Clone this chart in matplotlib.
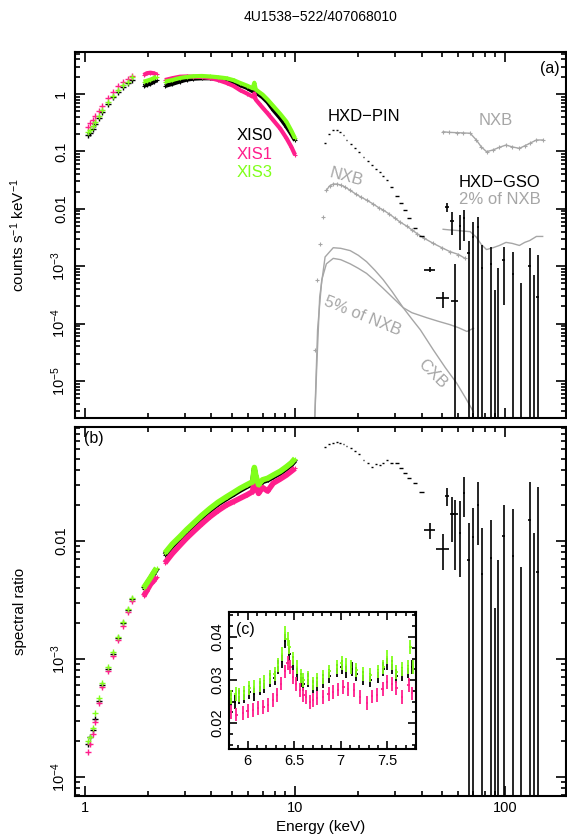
import numpy as np
import matplotlib
matplotlib.use('Agg')
import matplotlib.pyplot as plt
from matplotlib.ticker import LogLocator, NullFormatter, FuncFormatter, MultipleLocator, FixedLocator

plt.rcParams['font.family'] = ['Liberation Sans', 'DejaVu Sans']
plt.rcParams['mathtext.fontset'] = 'custom'
plt.rcParams['mathtext.rm'] = 'Liberation Sans'
plt.rcParams['mathtext.it'] = 'Liberation Sans:italic'
plt.rcParams['mathtext.bf'] = 'Liberation Sans:bold'

PINK = '#ff1e8c'
GREEN = '#80ff1a'
GREY = '#a6a6a6'

# ---------------- data ----------------
title = '4U1538\u2212522/407068010'

# XIS energies (keV); excluded bands between the segments
xis_gaps = [(1.72, 1.88), (2.21, 2.38)]
xis_energy = [1.03, 1.06, 1.09, 1.12, 1.16, 1.21, 1.29, 1.36, 1.44, 1.52, 1.60, 1.68,
              1.90, 1.97, 2.05, 2.12, 2.19,
              2.40, 2.60, 2.83, 3.05, 3.28, 3.60, 3.94, 4.30, 4.72, 5.10, 5.47, 5.90,
              6.28, 6.40, 6.50, 6.70, 7.00, 7.40, 7.87, 8.50, 9.10, 9.60, 10.0]

# (a) counts s-1 keV-1
xis0_counts = [0.19, 0.21, 0.25, 0.30, 0.38, 0.48, 0.68, 0.88, 1.10, 1.32, 1.55, 1.78,
               1.38, 1.45, 1.52, 1.62, 1.75,
               1.38, 1.50, 1.65, 1.78, 1.85, 1.88, 1.88, 1.83, 1.75, 1.60, 1.43, 1.28,
               1.12, 1.40, 1.05, 0.99, 0.88, 0.72, 0.53, 0.38, 0.27, 0.20, 0.155]
xis1_counts = [0.27, 0.31, 0.35, 0.42, 0.50, 0.62, 0.84, 1.08, 1.38, 1.62, 1.80, 2.05,
               2.14, 2.30, 2.35, 2.30, 2.20,
               1.75, 1.88, 2.00, 2.02, 2.00, 1.98, 1.90, 1.75, 1.56, 1.38, 1.17, 1.02,
               0.90, 1.02, 0.80, 0.70, 0.58, 0.46, 0.35, 0.25, 0.17, 0.12, 0.087]
xis3_counts = [0.22, 0.24, 0.28, 0.33, 0.41, 0.52, 0.73, 0.94, 1.18, 1.42, 1.65, 1.95,
               1.64, 1.70, 1.78, 1.88, 2.00,
               1.64, 1.75, 1.90, 1.98, 2.04, 2.06, 2.02, 1.96, 1.88, 1.74, 1.56, 1.40,
               1.26, 1.57, 1.20, 1.10, 0.98, 0.80, 0.62, 0.45, 0.33, 0.23, 0.169]

# (b) spectral ratio
xis0_ratio = [1.9e-4, 2.2e-4, 2.5e-4, 3.1e-4, 4.4e-4, 6.0e-4, 8.2e-4, 1.1e-3, 1.5e-3, 2.0e-3, 2.6e-3, 3.2e-3,
              3.9e-3, 4.3e-3, 4.8e-3, 5.3e-3, 5.8e-3,
              7.6e-3, 9.1e-3, 0.0106, 0.0121, 0.0137, 0.0160, 0.0183, 0.0207, 0.0230, 0.0250, 0.0270, 0.0291,
              0.0308, 0.0400, 0.0345, 0.0291, 0.0320, 0.0330, 0.0351, 0.0378, 0.0413, 0.0446, 0.0485]
xis1_ratio = [1.64e-4, 1.9e-4, 2.3e-4, 2.9e-4, 4.2e-4, 5.8e-4, 7.9e-4, 1.05e-3, 1.45e-3, 1.9e-3, 2.5e-3, 3.1e-3,
              3.4e-3, 3.8e-3, 4.3e-3, 4.6e-3, 5.0e-3,
              6.5e-3, 7.8e-3, 9.2e-3, 0.0106, 0.0120, 0.0140, 0.0161, 0.0181, 0.0202, 0.0216, 0.0230, 0.0246,
              0.0262, 0.0340, 0.0300, 0.0253, 0.0284, 0.0265, 0.0309, 0.0335, 0.0362, 0.0390, 0.0413]
xis3_ratio = [2.0e-4, 2.2e-4, 2.6e-4, 3.5e-4, 4.7e-4, 6.3e-4, 8.5e-4, 1.15e-3, 1.55e-3, 2.05e-3, 2.65e-3, 3.3e-3,
              4.0e-3, 4.4e-3, 4.9e-3, 5.4e-3, 5.9e-3,
              7.9e-3, 9.4e-3, 0.0109, 0.0125, 0.0141, 0.0165, 0.0189, 0.0213, 0.0237, 0.0258, 0.0279, 0.0300,
              0.0318, 0.0420, 0.0360, 0.0300, 0.0330, 0.0340, 0.0362, 0.0390, 0.0426, 0.0460, 0.0500]

# HXD-PIN source
pin_energy = [13.9, 14.5, 15.1, 15.8, 16.4, 17.0, 17.6, 18.4, 19.3, 20.2, 21.2, 22.2, 23.2, 24.3,
              25.4, 26.3, 27.3, 28.8, 30.5, 32.0, 33.4, 34.9, 37.2, 40.1]
pin_xerr = [0.15, 0.15, 0.15, 0.15, 0.15, 0.15, 0.15, 0.2, 0.2, 0.2, 0.2, 0.25, 0.25, 0.25,
            0.25, 0.25, 0.3, 0.5, 0.6, 0.6, 0.6, 0.7, 0.9, 1.2]
pin_counts = [0.138, 0.20, 0.236, 0.235, 0.22, 0.19, 0.158, 0.135, 0.113, 0.096, 0.081, 0.068, 0.058, 0.050,
              0.043, 0.037, 0.0317, 0.024, 0.0167, 0.0125, 0.0095, 0.0068, 0.0046, 0.0033]
pin_ratio = [0.063, 0.066, 0.068, 0.069, 0.068, 0.066, 0.064, 0.061, 0.058, 0.055, 0.049, 0.046, 0.0425, 0.045,
             0.044, 0.046, 0.0485, 0.046, 0.046, 0.0418, 0.0379, 0.0339, 0.0308, 0.0262]

# HXD high-energy / GSO points (1e-9 / 1e-6 = central value below the plotted range)
gso_energy = [43.9, 50.7, 53.0, 56.0, 57.5, 61.0, 63.7, 67.0, 70.3, 74.0, 77.5, 85.5, 89.7, 93.0,
              98.6, 109.0, 118.7, 131.0, 137.0, 143.0]
gso_xerr = [2.6, 3.6, 1.0, 1.3, 2.4, 0.8, 0.8, 0.8, 0.9, 0.9, 1.0, 1.0, 1.0, 1.0,
            1.5, 1.5, 1.5, 2.0, 2.0, 2.0]
gso_counts = [8.6e-4, 2.8e-4, 1.07e-2, 6.1e-3, 2.5e-4, 5.0e-3, 6.9e-3, 1.7e-3, 3.2e-3, 4.8e-3, 9.3e-4, 1.1e-3, 1e-9, 1e-9,
              1.3e-3, 7.3e-4, 1e-9, 1.0e-3, 1e-9, 2.9e-4]
gso_counts_lo = [7.8e-4, 1.9e-4, 8.8e-3, 3.5e-3, 1e-12, 1.9e-3, 2.8e-3, 1e-12, 1e-12, 1e-12, 1e-12, 1e-12, 1e-12, 1e-12,
                 2.1e-4, 1e-12, 1e-12, 1e-12, 1e-12, 1e-12]
gso_counts_hi = [9.5e-4, 3.6e-4, 1.26e-2, 8.8e-3, 1.1e-3, 7.8e-3, 9.5e-3, 2.8e-3, 5.9e-3, 7.3e-3, 2.3e-3, 2.2e-3, 3.8e-4, 9.3e-4,
                 2.2e-3, 1.8e-3, 5.0e-4, 2.1e-3, 7.0e-4, 1.6e-3]
gso_ratio = [0.0124, 0.0086, 0.024, 0.017, 0.017, 0.0117, 0.0255, 0.0069, 0.0108, 0.020, 0.0053, 0.0072, 1e-6, 1e-6,
             0.011, 0.0075, 1e-6, 0.015, 1e-6, 0.0055]
gso_ratio_lo = [0.0104, 0.0057, 0.0198, 0.0099, 0.0057, 0.0050, 0.0161, 1e-12, 1e-12, 0.0092, 1e-12, 1e-12, 1e-12, 1e-12,
                1e-12, 1e-12, 1e-12, 1e-12, 1e-12, 1e-12]
gso_ratio_hi = [0.0142, 0.0115, 0.028, 0.0238, 0.0222, 0.022, 0.035, 0.0142, 0.019, 0.0318, 0.0129, 0.015, 2.7e-3, 6.9e-3,
                0.0202, 0.0187, 6.0e-3, 0.0318, 0.0118, 0.0288]

# PIN non-X-ray background
nxb_pin_energy = [12.4, 12.7, 13.2, 13.6, 14.1, 14.6, 15.2, 15.8, 16.5, 17.3, 18.3, 19.5, 20.6, 21.9, 23.5,
                  25.0, 26.3, 28.0, 30.0, 31.6, 34.0, 36.0, 38.1, 41.0, 45.5, 50.0, 54.6, 60.0, 64.5]
nxb_pin = [3.5e-5, 5.8e-4, 2.4e-3, 7.3e-3, 0.021, 0.025, 0.027, 0.027, 0.026, 0.024, 0.021, 0.018, 0.016, 0.0142, 0.0122,
           0.0105, 0.0095, 0.0082, 0.0068, 0.0059, 0.0050, 0.0043, 0.0037, 0.0031, 0.0025, 0.0021, 0.0018, 0.0016, 0.00137]

# 5% of PIN NXB
nxb5_energy = [12.4, 12.8, 13.4, 14.1, 15.2, 16.5, 18.3, 20.0, 21.9, 24.0, 26.3, 29.0, 32.7, 36.0, 42.3,
               48.0, 54.6, 60.0, 65.8, 70.7]
nxb5 = [2e-6, 7.8e-5, 5.8e-4, 1.1e-3, 1.37e-3, 1.3e-3, 1.1e-3, 9.2e-4, 7.5e-4, 5.6e-4, 4.1e-4, 2.9e-4, 1.9e-4, 1.55e-4, 1.27e-4,
        1.1e-4, 9.6e-5, 8.5e-5, 7.3e-5, 8.3e-5]

# CXB
cxb_energy = [12.4, 12.7, 13.1, 13.9, 15.2, 16.5, 18.3, 20.0, 21.9, 24.0, 26.3, 29.0, 32.7, 36.0, 39.5,
              45.5, 52.0, 58.8, 65.0, 70.7]
cxb = [2e-6, 2e-5, 2.9e-4, 1.45e-3, 2.1e-3, 2.05e-3, 1.87e-3, 1.55e-3, 1.2e-3, 8.5e-4, 5.8e-4, 3.6e-4, 1.9e-4, 1.2e-4, 7.8e-5,
       3.5e-5, 1.7e-5, 9.2e-6, 5e-6, 2.9e-6]

# GSO NXB and 2% of it
nxb_gso_energy = [50.7, 54.0, 58.8, 63.0, 68.2, 73.0, 77.0, 81.6, 87.6, 94.0, 101.0, 108.0, 117.0, 124.0, 131.0, 141.0, 151.0]
nxb_gso = [0.22, 0.215, 0.212, 0.21, 0.207, 0.158, 0.12, 0.099, 0.106, 0.118, 0.129, 0.12, 0.113, 0.125, 0.138, 0.158, 0.158]
nxb2_gso = [4.4e-3, 4.3e-3, 4.2e-3, 4.1e-3, 4.0e-3, 3.2e-3, 2.4e-3, 1.95e-3, 2.1e-3, 2.3e-3, 2.6e-3, 2.5e-3, 2.3e-3, 2.6e-3,
            2.8e-3, 3.3e-3, 3.3e-3]

# (c) inset, Fe-K region ratios
in0_energy = [5.82, 5.86, 5.91, 5.96, 6.02, 6.07, 6.13, 6.18, 6.24, 6.29, 6.33, 6.37, 6.40, 6.45, 6.49, 6.53, 6.57,
              6.60, 6.65, 6.70, 6.75, 6.81, 6.88, 6.96, 7.01, 7.06, 7.12, 7.17, 7.24, 7.32, 7.40, 7.46, 7.50,
              7.55, 7.60, 7.66, 7.72, 7.77]
in0_ratio = [0.0255, 0.0250, 0.0260, 0.0262, 0.0272, 0.0268, 0.0282, 0.0285, 0.0300, 0.0305, 0.0330, 0.0345, 0.0390,
             0.0360, 0.0340, 0.0315, 0.0300, 0.0290, 0.0300, 0.0285, 0.0290, 0.0298, 0.0310, 0.0322, 0.0330, 0.0320,
             0.0325, 0.0315, 0.0305, 0.0300, 0.0310, 0.0325, 0.0340, 0.0330, 0.0310, 0.0315, 0.0320, 0.0330]
in1_energy = [5.82, 5.88, 5.95, 6.00, 6.06, 6.11, 6.17, 6.22, 6.27, 6.32, 6.36, 6.40, 6.43, 6.46, 6.49, 6.52, 6.56,
              6.60, 6.63, 6.67, 6.70, 6.75, 6.81, 6.87, 6.92, 6.97, 7.03, 7.08, 7.14, 7.21, 7.28, 7.34, 7.39,
              7.45, 7.50, 7.55, 7.60, 7.66, 7.73, 7.77]
in1_ratio = [0.0226, 0.0220, 0.0223, 0.0228, 0.0230, 0.0235, 0.0238, 0.0242, 0.0253, 0.0265, 0.0292, 0.0320, 0.0339,
             0.0330, 0.0308, 0.0290, 0.0277, 0.0265, 0.0261, 0.0250, 0.0253, 0.0258, 0.0261, 0.0268, 0.0273, 0.0278,
             0.0284, 0.0280, 0.0277, 0.0261, 0.0246, 0.0262, 0.0265, 0.0280, 0.0296, 0.0290, 0.0281, 0.0261,
             0.0288, 0.0269]
in3_energy = [5.82, 5.87, 5.91, 5.96, 6.02, 6.07, 6.13, 6.18, 6.24, 6.29, 6.33, 6.37, 6.40, 6.43, 6.45, 6.49, 6.53,
              6.57, 6.60, 6.65, 6.70, 6.75, 6.81, 6.88, 6.96, 7.01, 7.06, 7.11, 7.17, 7.24, 7.32, 7.40, 7.46,
              7.50, 7.55, 7.60, 7.66, 7.72, 7.75, 7.78]
in3_ratio = [0.0261, 0.0268, 0.0265, 0.0270, 0.0281, 0.0285, 0.0288, 0.0295, 0.0308, 0.0315, 0.0335, 0.0360, 0.0409,
             0.0395, 0.0377, 0.0350, 0.0331, 0.0310, 0.0300, 0.0305, 0.0292, 0.0300, 0.0308, 0.0320, 0.0331, 0.0340,
             0.0335, 0.0330, 0.0323, 0.0315, 0.0312, 0.0320, 0.0330, 0.0354, 0.0340, 0.0319, 0.0325, 0.0330,
             0.0377, 0.0331]

# ---------------- figure ----------------
fig = plt.figure(figsize=(5.67, 8.39), dpi=100)
W, H = 567.0, 839.0
def box(l, t, r, b):
    return [l / W, 1 - b / H, (r - l) / W, (b - t) / H]

axa = fig.add_axes(box(75, 52, 566, 418))
axb = fig.add_axes(box(75, 427, 566, 796))
axc = fig.add_axes(box(229, 612, 416, 749))

XLIM = (0.896, 195)

def logfmt(v, pos):
    e = int(round(np.log10(v)))
    names = {0: '1', -1: '0.1', -2: '0.01', 1: '10', 2: '100'}
    if e in names:
        return names[e]
    return r'$10^{%d}$' % e

def style_log(ax):
    ax.set_xscale('log')
    ax.set_yscale('log')
    ax.set_xlim(*XLIM)
    ax.xaxis.set_major_locator(FixedLocator([1, 10, 100]))
    ax.xaxis.set_minor_locator(LogLocator(base=10, subs=np.arange(2, 10)))
    ax.xaxis.set_minor_formatter(NullFormatter())
    ax.yaxis.set_major_locator(LogLocator(base=10, numticks=20))
    ax.yaxis.set_minor_locator(LogLocator(base=10, subs=np.arange(2, 10), numticks=20))
    ax.yaxis.set_minor_formatter(NullFormatter())
    ax.yaxis.set_major_formatter(FuncFormatter(logfmt))
    ax.xaxis.set_major_formatter(FuncFormatter(logfmt))
    ax.tick_params(which='both', direction='in', top=True, right=True, width=1.2)
    ax.tick_params(which='major', length=7, labelsize=10.5)
    ax.tick_params(which='minor', length=3.5)
    ax.tick_params(axis='y', which='major', pad=5)
    for s in ax.spines.values():
        s.set_linewidth(1.5)

def rot_ylabels(ax):
    for lab in ax.get_yticklabels():
        lab.set_rotation(90)
        lab.set_va('center')

def xis_plot(ax, e, v, color, lw, ms):
    e = np.asarray(e)
    v = np.asarray(v)
    seg = np.zeros(len(e), dtype=int)
    for lo, hi in xis_gaps:
        seg += (e > hi).astype(int)
    for k in range(1, seg.max() + 1):
        m = seg == k
        ax.plot(e[m], v[m], color=color, lw=lw, solid_capstyle='butt', zorder=3)
    low = seg == 0
    ax.plot(e[low], v[low], '+', color=color, ms=ms, mew=1.0, zorder=3)
    ax.plot(e[~low], v[~low], '+', color=color, ms=ms * 0.7, mew=0.8, zorder=3)

def asym(v, lo, hi):
    v = np.asarray(v); lo = np.asarray(lo); hi = np.asarray(hi)
    return [v - lo, hi - v]

# ---- panel (a) ----
style_log(axa)
axa.set_ylim(2.27e-6, 5.39)
axa.tick_params(axis='x', labelbottom=False)

xis_plot(axa, xis_energy, xis0_counts, 'black', 3.0, 4)
xis_plot(axa, xis_energy, xis1_counts, PINK, 3.0, 4)
xis_plot(axa, xis_energy, xis3_counts, GREEN, 3.0, 4)

axa.plot(nxb_pin_energy[4:], nxb_pin[4:], color=GREY, lw=1.0, zorder=2)
axa.plot(nxb_pin_energy, nxb_pin, '+', color=GREY, ms=3, mew=0.8, zorder=2)
axa.plot(nxb5_energy, nxb5, color=GREY, lw=1.0, zorder=2)
axa.plot(cxb_energy, cxb, color=GREY, lw=1.0, zorder=2)
axa.plot(nxb_gso_energy, nxb_gso, color=GREY, lw=1.0, zorder=2)
axa.plot(nxb_gso_energy, nxb_gso, '+', color=GREY, ms=3, mew=0.8, zorder=2)
axa.plot(nxb_gso_energy, nxb2_gso, color=GREY, lw=1.0, zorder=2)

axa.errorbar(pin_energy, pin_counts, xerr=pin_xerr, fmt='none', ecolor='black', elinewidth=1.0, capsize=0, zorder=4)
axa.errorbar(gso_energy, gso_counts, xerr=gso_xerr, yerr=asym(gso_counts, gso_counts_lo, gso_counts_hi),
             fmt='none', ecolor='black', elinewidth=1.2, capsize=0, zorder=4)

axa.set_ylabel('counts s$^{-1}$ keV$^{-1}$', fontsize=11)
axa.yaxis.set_label_coords(-0.097, 0.5)

fs = 12
axa.text(6.4, 0.19, 'XIS0', color='black', fontsize=fs, ha='center', va='center')
axa.text(6.4, 0.090, 'XIS1', color=PINK, fontsize=fs, ha='center', va='center')
axa.text(6.4, 0.043, 'XIS3', color=GREEN, fontsize=fs, ha='center', va='center')
axa.text(21.3, 0.41, 'HXD\u2212PIN', color='black', fontsize=fs, ha='center', va='center')
axa.text(90, 0.34, 'NXB', color=GREY, fontsize=fs, ha='center', va='center')
axa.text(17.5, 0.036, 'NXB', color=GREY, fontsize=fs, ha='center', va='center', rotation=-15)
axa.text(94, 0.029, 'HXD\u2212GSO', color='black', fontsize=fs, ha='center', va='center')
axa.text(94, 0.0148, '2% of NXB', color=GREY, fontsize=fs, ha='center', va='center')
axa.text(21.0, 1.36e-4, '5% of NXB', color=GREY, fontsize=fs, ha='center', va='center', rotation=-22)
axa.text(45.0, 1.32e-5, 'CXB', color=GREY, fontsize=fs, ha='center', va='center', rotation=-45)
axa.text(0.988, 0.975, '(a)', transform=axa.transAxes, fontsize=11.5, ha='right', va='top')
axa.set_title(title, fontsize=10, pad=22)

# ---- panel (b) ----
style_log(axb)
axb.set_ylim(6.9e-5, 0.0925)
xis_plot(axb, xis_energy, xis0_ratio, 'black', 4.0, 4)
xis_plot(axb, xis_energy, xis1_ratio, PINK, 4.0, 4)
xis_plot(axb, xis_energy, xis3_ratio, GREEN, 4.0, 4)
axb.errorbar(pin_energy, pin_ratio, xerr=pin_xerr, fmt='none', ecolor='black', elinewidth=1.0, capsize=0, zorder=4)
axb.errorbar(gso_energy, gso_ratio, xerr=gso_xerr, yerr=asym(gso_ratio, gso_ratio_lo, gso_ratio_hi),
             fmt='none', ecolor='black', elinewidth=1.2, capsize=0, zorder=4)
axb.set_ylabel('spectral ratio', fontsize=11)
axb.yaxis.set_label_coords(-0.097, 0.5)
axb.set_xlabel('Energy (keV)', fontsize=11, labelpad=4)
axb.text(0.018, 0.99, '(b)', transform=axb.transAxes, fontsize=11.5, ha='left', va='top')

# ---- inset (c) ----
axc.set_xlim(5.8, 7.81)
axc.set_ylim(0.014, 0.0458)
axc.xaxis.set_major_locator(FixedLocator([6, 6.5, 7, 7.5]))
axc.xaxis.set_minor_locator(MultipleLocator(0.1))
axc.yaxis.set_major_locator(FixedLocator([0.02, 0.03, 0.04]))
axc.yaxis.set_minor_locator(MultipleLocator(0.0025))
axc.xaxis.set_major_formatter(FuncFormatter(lambda v, p: ('%g' % v)))
axc.yaxis.set_major_formatter(FuncFormatter(lambda v, p: ('%.2f' % v)))
axc.tick_params(which='both', direction='in', top=True, right=True, width=1.2, labelsize=10.5)
axc.tick_params(which='major', length=6)
axc.tick_params(which='minor', length=3)
for s in axc.spines.values():
    s.set_linewidth(1.5)
for e, v, c in [(in0_energy, in0_ratio, 'black'), (in1_energy, in1_ratio, PINK), (in3_energy, in3_ratio, GREEN)]:
    axc.errorbar(e, v, xerr=0.012, yerr=0.0016, fmt='none', ecolor=c, elinewidth=1.3, capsize=0)
axc.text(0.04, 0.93, '(c)', transform=axc.transAxes, fontsize=11.5, ha='left', va='top')

fig.canvas.draw()
rot_ylabels(axa)
rot_ylabels(axb)
rot_ylabels(axc)

fig.savefig('out.png', dpi=100)
